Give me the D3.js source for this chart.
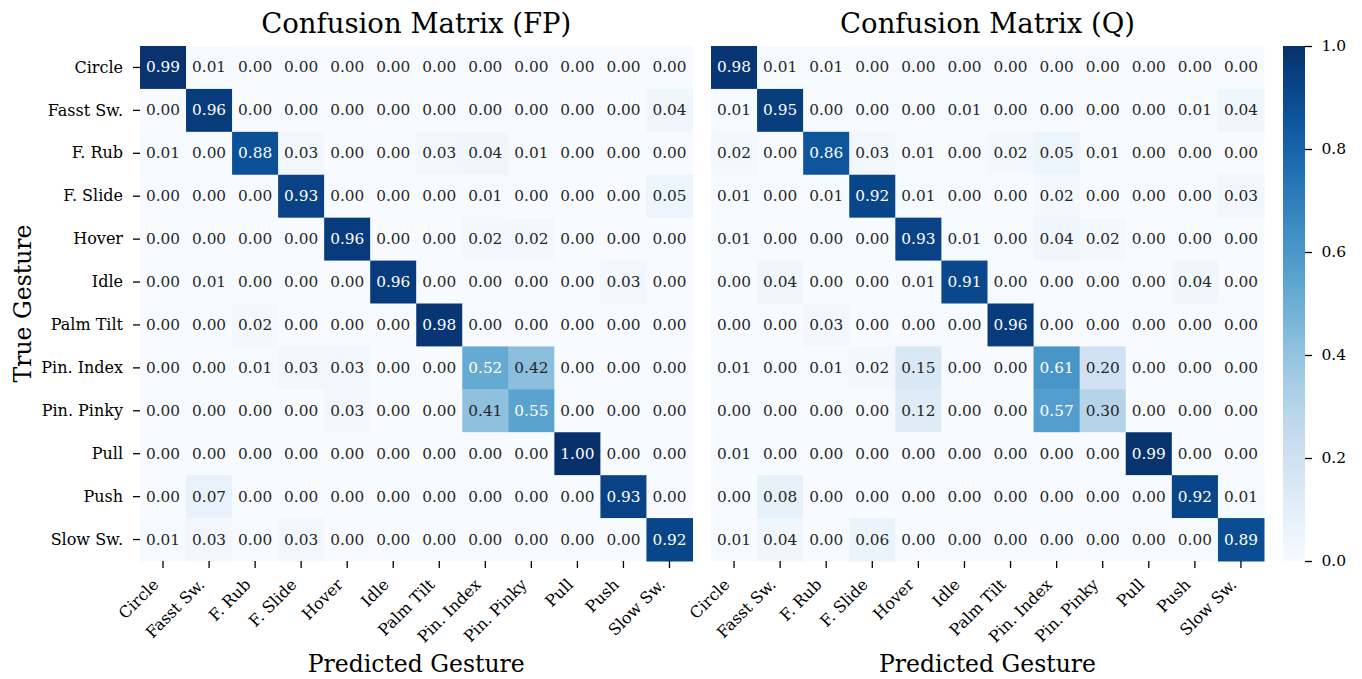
<!DOCTYPE html>
<html>
<head>
<meta charset="utf-8">
<script src="https://cdn.jsdelivr.net/npm/d3@7"></script>
<style>
  body { margin: 0; background: #fff; }
  svg { font-family: "DejaVu Serif", serif; }
</style>
</head>
<body>
<svg id="chart" width="1362" height="679"></svg>
<script>
// Gesture classes (rows = true, columns = predicted)
const gestures = ["Circle", "Fasst Sw.", "F. Rub", "F. Slide", "Hover", "Idle",
  "Palm Tilt", "Pin. Index", "Pin. Pinky", "Pull", "Push", "Slow Sw."];

// Normalised confusion matrix, full-precision model
const matrixFP = [
  [0.99, 0.01, 0.00, 0.00, 0.00, 0.00, 0.00, 0.00, 0.00, 0.00, 0.00, 0.00],
  [0.00, 0.96, 0.00, 0.00, 0.00, 0.00, 0.00, 0.00, 0.00, 0.00, 0.00, 0.04],
  [0.01, 0.00, 0.88, 0.03, 0.00, 0.00, 0.03, 0.04, 0.01, 0.00, 0.00, 0.00],
  [0.00, 0.00, 0.00, 0.93, 0.00, 0.00, 0.00, 0.01, 0.00, 0.00, 0.00, 0.05],
  [0.00, 0.00, 0.00, 0.00, 0.96, 0.00, 0.00, 0.02, 0.02, 0.00, 0.00, 0.00],
  [0.00, 0.01, 0.00, 0.00, 0.00, 0.96, 0.00, 0.00, 0.00, 0.00, 0.03, 0.00],
  [0.00, 0.00, 0.02, 0.00, 0.00, 0.00, 0.98, 0.00, 0.00, 0.00, 0.00, 0.00],
  [0.00, 0.00, 0.01, 0.03, 0.03, 0.00, 0.00, 0.52, 0.42, 0.00, 0.00, 0.00],
  [0.00, 0.00, 0.00, 0.00, 0.03, 0.00, 0.00, 0.41, 0.55, 0.00, 0.00, 0.00],
  [0.00, 0.00, 0.00, 0.00, 0.00, 0.00, 0.00, 0.00, 0.00, 1.00, 0.00, 0.00],
  [0.00, 0.07, 0.00, 0.00, 0.00, 0.00, 0.00, 0.00, 0.00, 0.00, 0.93, 0.00],
  [0.01, 0.03, 0.00, 0.03, 0.00, 0.00, 0.00, 0.00, 0.00, 0.00, 0.00, 0.92]
];

// Normalised confusion matrix, quantised model
const matrixQ = [
  [0.98, 0.01, 0.01, 0.00, 0.00, 0.00, 0.00, 0.00, 0.00, 0.00, 0.00, 0.00],
  [0.01, 0.95, 0.00, 0.00, 0.00, 0.01, 0.00, 0.00, 0.00, 0.00, 0.01, 0.04],
  [0.02, 0.00, 0.86, 0.03, 0.01, 0.00, 0.02, 0.05, 0.01, 0.00, 0.00, 0.00],
  [0.01, 0.00, 0.01, 0.92, 0.01, 0.00, 0.00, 0.02, 0.00, 0.00, 0.00, 0.03],
  [0.01, 0.00, 0.00, 0.00, 0.93, 0.01, 0.00, 0.04, 0.02, 0.00, 0.00, 0.00],
  [0.00, 0.04, 0.00, 0.00, 0.01, 0.91, 0.00, 0.00, 0.00, 0.00, 0.04, 0.00],
  [0.00, 0.00, 0.03, 0.00, 0.00, 0.00, 0.96, 0.00, 0.00, 0.00, 0.00, 0.00],
  [0.01, 0.00, 0.01, 0.02, 0.15, 0.00, 0.00, 0.61, 0.20, 0.00, 0.00, 0.00],
  [0.00, 0.00, 0.00, 0.00, 0.12, 0.00, 0.00, 0.57, 0.30, 0.00, 0.00, 0.00],
  [0.01, 0.00, 0.00, 0.00, 0.00, 0.00, 0.00, 0.00, 0.00, 0.99, 0.00, 0.00],
  [0.00, 0.08, 0.00, 0.00, 0.00, 0.00, 0.00, 0.00, 0.00, 0.00, 0.92, 0.01],
  [0.01, 0.04, 0.00, 0.06, 0.00, 0.00, 0.00, 0.00, 0.00, 0.00, 0.00, 0.89]
];

const colorbarTicks = [0.0, 0.2, 0.4, 0.6, 0.8, 1.0];

const svg = d3.select("#chart");
const plotTop = 46, plotBottom = 561;
const color = d3.scaleSequential(d3.interpolateBlues).domain([0, 1]);

const y = d3.scaleBand().domain(gestures).range([plotTop, plotBottom]);

function heatmap(x0, x1, data, title, showY) {
  const x = d3.scaleBand().domain(gestures).range([x0, x1]);
  const g = svg.append("g");

  const cells = g.selectAll("g.row").data(data).join("g")
    .selectAll("g.cell")
    .data((row, i) => row.map((v, j) => ({ v, r: gestures[i], c: gestures[j] })))
    .join("g");

  cells.append("rect")
    .attr("x", d => x(d.c))
    .attr("y", d => y(d.r))
    .attr("width", x.bandwidth() + 0.5)
    .attr("height", y.bandwidth() + 0.5)
    .attr("fill", d => color(d.v));

  cells.append("text")
    .attr("x", d => x(d.c) + x.bandwidth() / 2)
    .attr("y", d => y(d.r) + y.bandwidth() / 2)
    .attr("text-anchor", "middle")
    .attr("dominant-baseline", "central")
    .attr("font-size", 15.3)
    .attr("fill", d => d.v > 0.5 ? "#ffffff" : "#262626")
    .text(d => d.v.toFixed(2));

  // x axis with 45° labels
  const xAxis = g.append("g")
    .attr("transform", `translate(0,${plotBottom})`)
    .call(d3.axisBottom(x).tickSize(7).tickPadding(0));
  xAxis.select(".domain").remove();
  xAxis.selectAll(".tick line").attr("stroke", "#000").attr("stroke-width", 1.3);
  xAxis.selectAll(".tick text")
    .attr("font-family", "DejaVu Serif")
    .attr("font-size", 16)
    .attr("fill", "#000")
    .attr("text-anchor", "end")
    .attr("y", 0)
    .attr("dy", "0.76em")
    .attr("transform", "translate(-12,16) rotate(-45)");

  if (showY) {
    const yAxis = g.append("g")
      .attr("transform", `translate(${x0},0)`)
      .call(d3.axisLeft(y).tickSize(7).tickPadding(10));
    yAxis.select(".domain").remove();
    yAxis.selectAll(".tick line").attr("stroke", "#000").attr("stroke-width", 1.3);
    yAxis.selectAll(".tick text")
      .attr("font-family", "DejaVu Serif")
      .attr("font-size", 16)
      .attr("fill", "#000");

    svg.append("text")
      .attr("transform", `translate(31,${(plotTop + plotBottom) / 2}) rotate(-90)`)
      .attr("text-anchor", "middle")
      .attr("font-size", 23.5)
      .text("True Gesture");
  }

  svg.append("text")
    .attr("x", (x0 + x1) / 2)
    .attr("y", 33)
    .attr("text-anchor", "middle")
    .attr("font-size", 27.5)
    .text(title);

  svg.append("text")
    .attr("x", (x0 + x1) / 2)
    .attr("y", 672)
    .attr("text-anchor", "middle")
    .attr("font-size", 23.5)
    .text("Predicted Gesture");
}

heatmap(140, 692.5, matrixFP, "Confusion Matrix (FP)", true);
heatmap(711, 1264, matrixQ, "Confusion Matrix (Q)", false);

// Colour bar
const cbX = 1283, cbW = 22;
const cbScale = d3.scaleLinear().domain([0, 1]).range([plotBottom, plotTop]);
const defs = svg.append("defs");
const grad = defs.append("linearGradient")
  .attr("id", "cbGrad").attr("x1", 0).attr("y1", 1).attr("x2", 0).attr("y2", 0);
d3.range(0, 1.0001, 0.05).forEach(t => {
  grad.append("stop").attr("offset", t).attr("stop-color", color(t));
});
svg.append("rect")
  .attr("x", cbX).attr("y", plotTop)
  .attr("width", cbW).attr("height", plotBottom - plotTop)
  .attr("fill", "url(#cbGrad)");

const cbAxis = svg.append("g")
  .attr("transform", `translate(${cbX + cbW},0)`)
  .call(d3.axisRight(cbScale).tickValues(colorbarTicks).tickFormat(d3.format(".1f")).tickSize(7).tickPadding(9.5));
cbAxis.select(".domain").remove();
cbAxis.selectAll(".tick line").attr("stroke", "#000").attr("stroke-width", 1.3);
cbAxis.selectAll(".tick text")
  .attr("font-family", "DejaVu Serif")
  .attr("font-size", 15.5)
  .attr("fill", "#000");
</script>
</body>
</html>
